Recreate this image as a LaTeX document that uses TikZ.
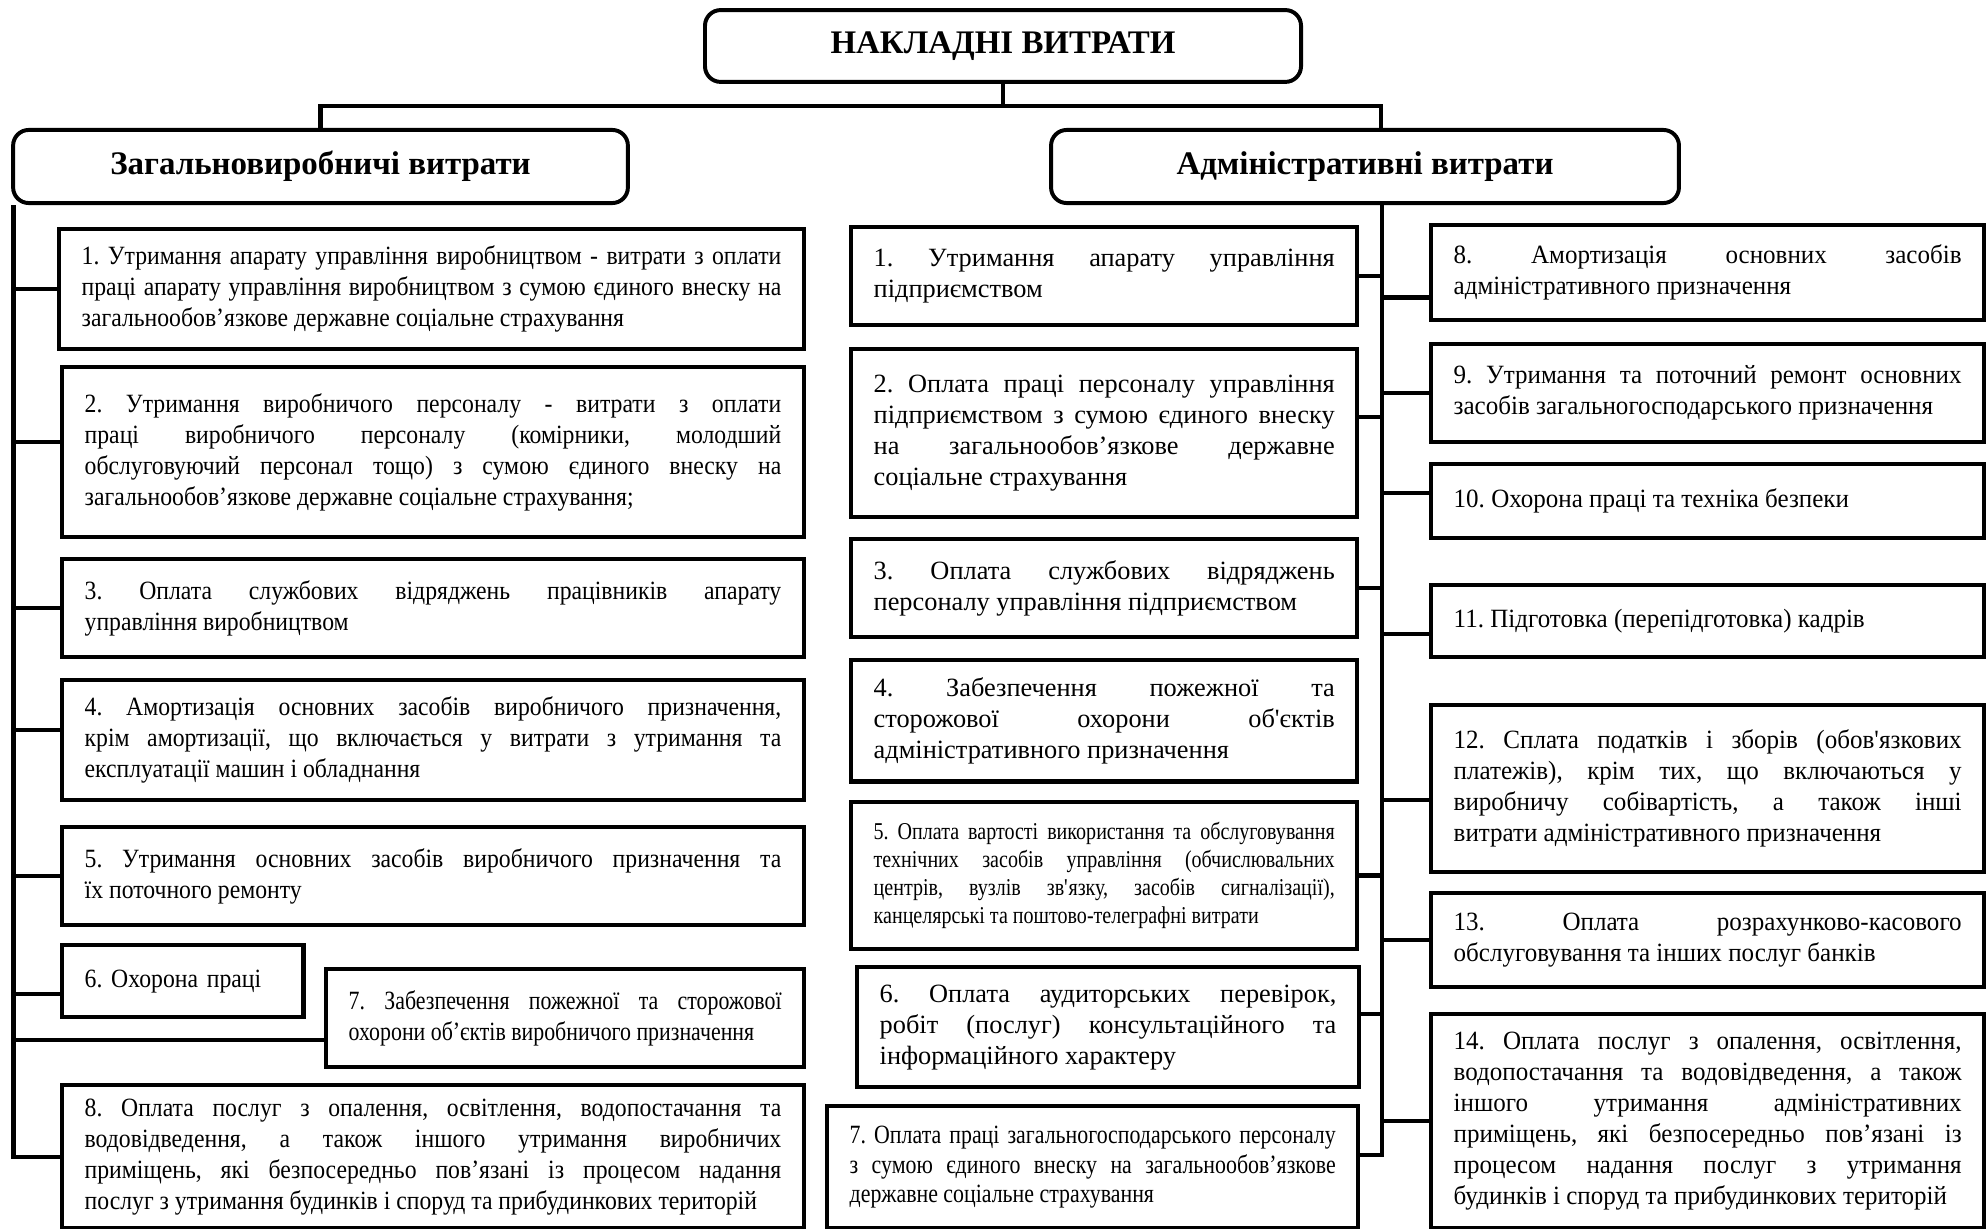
\documentclass[tikz,border=0pt]{standalone}
\usepackage{fontspec}
\setmainfont{Liberation Serif}
\newfontfamily\narrowfont[FakeStretch=0.9]{Liberation Serif}
\newfontfamily\tightfont[FakeStretch=0.83]{Liberation Serif}
\newfontfamily\rightfont[FakeStretch=0.95]{Liberation Serif}
\hyphenpenalty=10000
\exhyphenpenalty=10000
\tolerance=9999
\hbadness=10000
\tikzstyle{head}=[draw,rounded corners=0.25cm,line width=1.8pt,align=center,font=\fontsize{15}{17}\selectfont\bfseries]
\tikzstyle{item}=[draw,line width=2pt,anchor=north west,align=justify,inner xsep=0.36cm,inner ysep=0.1cm,font=\fontsize{12}{14.1}\selectfont]
\tikzstyle{gitem}=[item,font=\narrowfont\fontsize{12}{14.1}\selectfont]
\tikzstyle{ritem}=[item,font=\rightfont\fontsize{12}{14.1}\selectfont]
\tikzstyle{conn}=[draw,line width=2pt]

\begin{document}
\frenchspacing
\begin{tikzpicture}[x=0.016cm,y=-0.016cm]
  \fill[white] (0,0) rectangle (1986,1229);
  \useasboundingbox (0,0) rectangle (1986,1229);
  % headers
  \node[head,minimum width=9.54cm,minimum height=1.15cm] (top) at (1003,46) {НАКЛАДНІ ВИТРАТИ};
  \node[head,minimum width=9.84cm,minimum height=1.17cm] (gen) at (320.5,166.5) {Загальновиробничі витрати};
  \node[head,minimum width=10.05cm,minimum height=1.17cm] (adm) at (1365,166.5) {Адміністративні витрати};
  % left column
  \node[gitem,text width=11.2cm,minimum height=1.92cm] (g1) at (57,227)
    {1. Утримання апарату управління виробництвом - витрати з оплати\linebreak
     праці апарату управління виробництвом з сумою єдиного внеску на\linebreak
     загальнообов’язкове державне соціальне страхування};
  \node[gitem,text width=11.15cm,minimum height=2.72cm] (g2) at (60,365)
    {2. Утримання виробничого персоналу - витрати з оплати\linebreak
     праці виробничого персоналу (комірники, молодший\linebreak
     обслуговуючий персонал тощо) з сумою єдиного внеску на\linebreak
     загальнообов’язкове державне соціальне страхування;};
  \node[gitem,text width=11.15cm,minimum height=1.57cm] (g3) at (60,557)
    {3. Оплата службових відряджень працівників апарату\linebreak
     управління виробництвом};
  \node[gitem,text width=11.15cm,minimum height=1.92cm] (g4) at (60,678)
    {4. Амортизація основних засобів виробничого призначення,\linebreak
     крім амортизації, що включається у витрати з утримання та\linebreak
     експлуатації машин і обладнання};
  \node[gitem,text width=11.15cm,minimum height=1.57cm] (g5) at (60,825)
    {5. Утримання основних засобів виробничого призначення та\linebreak
     їх поточного ремонту};
  \node[gitem,align=left,text width=3.14cm,minimum height=1.15cm] (g6) at (60,943)
    {6. Охорона праці};
  \node[item,font=\tightfont\fontsize{12}{14.1}\selectfont,text width=6.93cm,minimum height=1.57cm] (g7) at (324,967)
    {7. Забезпечення пожежної та сторожової\linebreak
     охорони об’єктів виробничого призначення};
  \node[gitem,text width=11.15cm,minimum height=2.29cm] (g8) at (60,1083)
    {8. Оплата послуг з опалення, освітлення, водопостачання та\linebreak
     водовідведення, а також іншого утримання виробничих\linebreak
     приміщень, які безпосередньо пов’язані із процесом надання\linebreak
     послуг з утримання будинків і споруд та прибудинкових територій};
  % middle column
  \node[item,text width=7.38cm,minimum height=1.57cm] (a1) at (849,225)
    {1. Утримання апарату управління\linebreak
     підприємством};
  \node[item,text width=7.38cm,minimum height=2.69cm] (a2) at (849,347)
    {2. Оплата праці персоналу управління\linebreak
     підприємством з сумою єдиного внеску\linebreak
     на загальнообов’язкове державне\linebreak
     соціальне страхування};
  \node[item,text width=7.38cm,minimum height=1.57cm] (a3) at (849,537)
    {3. Оплата службових відряджень\linebreak
     персоналу управління підприємством};
  \node[item,text width=7.38cm,minimum height=1.94cm] (a4) at (849,658)
    {4. Забезпечення пожежної та\linebreak
     сторожової охорони об\textquotesingle єктів\linebreak
     адміністративного призначення};
  \node[item,font=\tightfont\fontsize{11}{12.7}\selectfont,text width=7.38cm,minimum height=2.35cm] (a5) at (849,800)
    {5. Оплата вартості використання та обслуговування\linebreak
     технічних засобів управління (обчислювальних\linebreak
     центрів, вузлів зв\textquotesingle язку, засобів сигналізації),\linebreak
     канцелярські та поштово-телеграфні витрати};
  \node[item,text width=7.31cm,minimum height=1.92cm] (a6) at (855,965)
    {6. Оплата аудиторських перевірок,\linebreak
     робіт (послуг) консультаційного та\linebreak
     інформаційного характеру};
  \node[item,font=\tightfont\fontsize{12}{13.6}\selectfont,text width=7.78cm,minimum height=1.95cm] (a7) at (825,1104)
    {7. Оплата праці загальногосподарського персоналу\linebreak
     з сумою єдиного внеску на загальнообов’язкове\linebreak
     державне соціальне страхування};
  % right column
  \node[ritem,text width=8.13cm,minimum height=1.52cm] (r8) at (1429,223)
    {8. Амортизація основних засобів\linebreak
     адміністративного призначення};
  \node[ritem,text width=8.13cm,minimum height=1.57cm] (r9) at (1429,342)
    {9. Утримання та поточний ремонт основних\linebreak
     засобів загальногосподарського призначення};
  \node[ritem,text width=8.13cm,minimum height=1.18cm] (r10) at (1429,462)
    {10. Охорона праці та техніка безпеки};
  \node[ritem,text width=8.13cm,minimum height=1.15cm] (r11) at (1429,583)
    {11. Підготовка (перепідготовка) кадрів};
  \node[ritem,text width=8.13cm,minimum height=2.67cm] (r12) at (1429,703)
    {12. Сплата податків і зборів (обов\textquotesingle язкових\linebreak
     платежів), крім тих, що включаються у\linebreak
     виробничу собівартість, а також інші\linebreak
     витрати адміністративного призначення};
  \node[ritem,text width=8.13cm,minimum height=1.5cm] (r13) at (1429,891)
    {13. Оплата розрахунково-касового\linebreak
     обслуговування та інших послуг банків};
  \node[ritem,text width=8.13cm,minimum height=3.42cm] (r14) at (1429,1012)
    {14. Оплата послуг з опалення, освітлення,\linebreak
     водопостачання та водовідведення, а також\linebreak
     іншого утримання адміністративних\linebreak
     приміщень, які безпосередньо пов’язані із\linebreak
     процесом надання послуг з утримання\linebreak
     будинків і споруд та прибудинкових територій};
  % headers links
  \draw[conn] (gen.north) -- ++(0,-22) -| (top.south);
  \draw[conn] ([xshift=0.26cm]adm.north) -- ++(0,-22) -| (top.south);
  % left trunk
  \coordinate (lt) at ([xshift=0.04cm]gen.south west);
  \draw[conn] (lt) |- (g8.west);
  \draw[conn] (g1.west) -- (g1.west -| lt);
  \draw[conn] ([yshift=0.16cm]g2.west) -- ([yshift=0.16cm]g2.west -| lt);
  \draw[conn] (g3.west) -- (g3.west -| lt);
  \draw[conn] ([yshift=0.16cm]g4.west) -- ([yshift=0.16cm]g4.west -| lt);
  \draw[conn] (g5.west) -- (g5.west -| lt);
  \draw[conn] ([yshift=-0.21cm]g6.west) -- ([yshift=-0.21cm]g6.west -| lt);
  \draw[conn] ([yshift=-0.35cm]g7.west) -- ([yshift=-0.35cm]g7.west -| lt);
  % right trunk
  \coordinate (rt) at ([xshift=0.27cm]adm.south);
  \draw[conn] (rt) |- ([yshift=0.19cm]a7.east);
  \draw[conn] (a1.east) -- (a1.east -| rt);
  \draw[conn] ([yshift=0.26cm]a2.east) -- ([yshift=0.26cm]a2.east -| rt);
  \draw[conn] (a3.east) -- (a3.east -| rt);
  \draw[conn] (a5.east) -- (a5.east -| rt);
  \draw[conn] ([yshift=0.21cm]a6.east) -- ([yshift=0.21cm]a6.east -| rt);
  \draw[conn] ([yshift=-0.4cm]r8.west) -- ([yshift=-0.4cm]r8.west -| rt);
  \draw[conn] (r9.west) -- (r9.west -| rt);
  \draw[conn] ([yshift=0.13cm]r10.west) -- ([yshift=0.13cm]r10.west -| rt);
  \draw[conn] ([yshift=-0.21cm]r11.west) -- ([yshift=-0.21cm]r11.west -| rt);
  \draw[conn] ([yshift=-0.18cm]r12.west) -- ([yshift=-0.18cm]r12.west -| rt);
  \draw[conn] (r13.west) -- (r13.west -| rt);
  \draw[conn] (r14.west) -- (r14.west -| rt);
\end{tikzpicture}
\end{document}
